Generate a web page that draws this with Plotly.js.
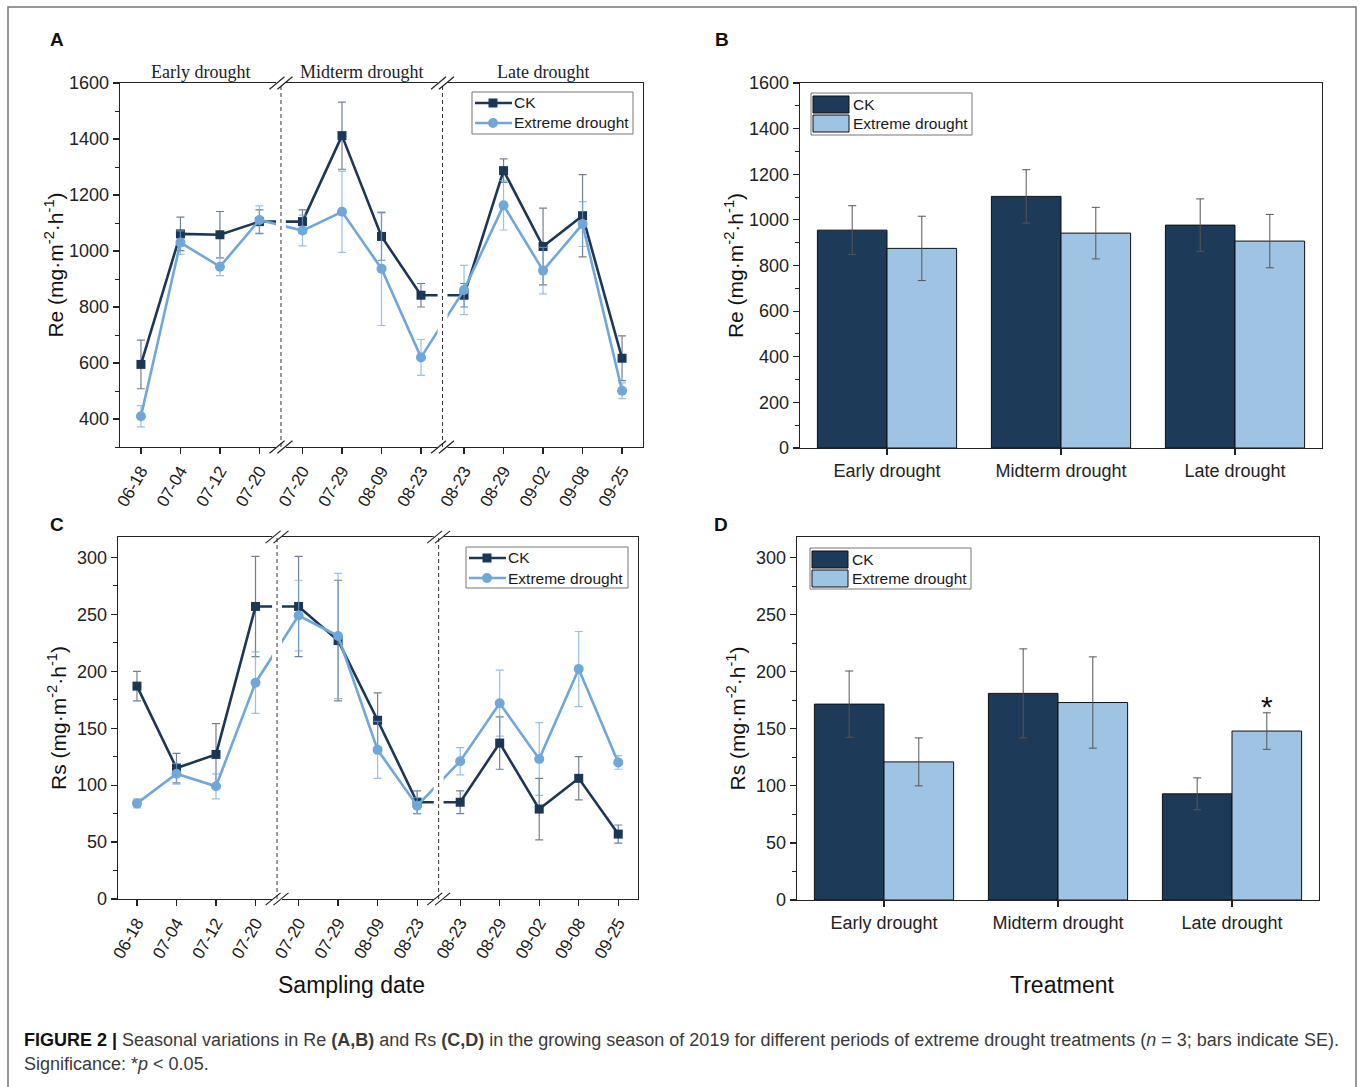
<!DOCTYPE html>
<html>
<head>
<meta charset="utf-8">
<script src="https://cdn.plot.ly/plotly-3.0.1.min.js"></script>
<style>html,body{margin:0;padding:0;background:#fff;}#chart{width:1360px;height:1087px;}</style>
</head>
<body>
<div id="chart"></div>
<script>
// ---------- data ----------
const datesEarly = ['06-18','07-04','07-12','07-20'];
const datesMid   = ['07-20','07-29','08-09','08-23'];
const datesLate  = ['08-23','08-29','09-02','09-08','09-25'];
const periodNames = ['Early drought','Midterm drought','Late drought'];
const seriesNames = ['CK','Extreme drought'];

const reCK   = [595, 1061, 1058, 1105, 1105, 1412, 1052, 842, 842, 1287, 1016, 1126, 617];
const reCKse = [87, 60, 83, 42, 42, 120, 85, 42, 42, 42, 137, 147, 80];
const reED   = [410, 1030, 944, 1111, 1073, 1140, 937, 620, 861, 1163, 930, 1096, 501];
const reEDse = [38, 42, 32, 50, 55, 145, 203, 64, 88, 88, 83, 80, 28];

const rsCK   = [187, 115, 127, 257, 257, 227, 157, 85, 85, 137, 79, 106, 57];
const rsCKse = [13, 13, 27, 44, 44, 53, 24, 10, 10, 23, 27, 19, 8];
const rsED   = [84, 110, 99, 190, 249, 231, 131, 82, 121, 172, 123, 202, 120];
const rsEDse = [4, 9, 11, 27, 31, 55, 25, 7, 12, 29, 32, 33, 6];

const reBarCK   = [955, 1103, 977];
const reBarCKse = [107, 117, 115];
const reBarED   = [875, 942, 907];
const reBarEDse = [141, 113, 117];

const rsBarCK   = [171.6, 181, 93];
const rsBarCKse = [29, 39, 14];
const rsBarED   = [121, 173, 148];
const rsBarEDse = [21, 40, 16];

// ---------- styling ----------
const W = 1360, H = 1087;
const px = v => v / W, py = v => 1 - v / H;
const CK_COL = '#1c3756', ED_COL = '#6fa7da';
const CK_BAR = '#1d3a59', ED_BAR = '#9fc3e3';
const FONT = 'Liberation Sans, Arial, sans-serif';

// x positions for the broken date axis (segments separated by a break)
const GAP = 0.09;
const segs = [datesEarly, datesMid, datesLate];
const xPos = [], xText = [], segCenters = [];
let k = 0;
segs.forEach((seg, s) => {
  const start = k;
  seg.forEach(d => { xPos.push(k + s * GAP); xText.push(d); k++; });
  segCenters.push((xPos[start] + xPos[k - 1]) / 2);
});
const breaks = [(xPos[3] + xPos[4]) / 2, (xPos[7] + xPos[8]) / 2];

function lineTraces(ck, ckse, ed, edse, xa, ya) {
  return [
    {type:'scatter', mode:'lines+markers', name:seriesNames[0], x:xPos, y:ck, xaxis:xa, yaxis:ya, showlegend:false,
     line:{color:CK_COL, width:2.6}, marker:{symbol:'square', size:9, color:CK_COL},
     error_y:{type:'data', array:ckse, visible:true, color:'rgba(40,62,92,0.65)', thickness:1.2, width:4}},
    {type:'scatter', mode:'lines+markers', name:seriesNames[1], x:xPos, y:ed, xaxis:xa, yaxis:ya, showlegend:false,
     line:{color:ED_COL, width:2.6}, marker:{symbol:'circle', size:10, color:ED_COL},
     error_y:{type:'data', array:edse, visible:true, color:'rgba(111,167,218,0.7)', thickness:1.2, width:4}}
  ];
}
function barTraces(ck, ckse, ed, edse, xa, ya) {
  return [
    {type:'bar', name:seriesNames[0], x:periodNames, y:ck, xaxis:xa, yaxis:ya, showlegend:false,
     marker:{color:CK_BAR, line:{color:'#111', width:1}},
     error_y:{type:'data', array:ckse, visible:true, color:'#555', thickness:1, width:4}},
    {type:'bar', name:seriesNames[1], x:periodNames, y:ed, xaxis:xa, yaxis:ya, showlegend:false,
     marker:{color:ED_BAR, line:{color:'#111', width:1}},
     error_y:{type:'data', array:edse, visible:true, color:'#555', thickness:1, width:4}}
  ];
}

const data = [].concat(
  lineTraces(reCK, reCKse, reED, reEDse, 'x', 'y'),
  barTraces(reBarCK, reBarCKse, reBarED, reBarEDse, 'x2', 'y2'),
  lineTraces(rsCK, rsCKse, rsED, rsEDse, 'x3', 'y3'),
  barTraces(rsBarCK, rsBarCKse, rsBarED, rsBarEDse, 'x4', 'y4')
);

const axBase = {showline:true, mirror:true, linecolor:'#222', linewidth:1.3, ticks:'outside', ticklen:6,
  tickwidth:1.2, tickcolor:'#222', showgrid:false, zeroline:false, fixedrange:true,
  tickfont:{size:18, color:'#222', family:FONT}};
const dateX = Object.assign({}, axBase, {tickmode:'array', tickvals:xPos, ticktext:xText, tickangle:-60,
  tickfont:{size:17, color:'#1a1a1a', family:FONT}});
const catX = Object.assign({}, axBase, {type:'category', ticklen:6});
const yTitle = t => ({text:t, font:{size:21, color:'#111', family:FONT}});
const minorY = d => ({dtick:d, ticks:'outside', ticklen:3.5, tickwidth:1, tickcolor:'#222'});

function breakShapes(xr, yr) {
  const out = [];
  breaks.forEach(b => {
    out.push({type:'rect', xref:xr, yref:yr + ' domain', x0:b - 0.125, x1:b + 0.125, y0:-0.012, y1:1.012,
      fillcolor:'#fff', line:{width:0}, layer:'above'});
    out.push({type:'line', xref:xr, yref:yr + ' domain', x0:b, x1:b, y0:0, y1:1,
      line:{color:'#333', width:1, dash:'4px,3px'}, layer:'above'});
    [0, 1].forEach(yy => [-0.1, 0.1].forEach(dx => out.push({type:'line', xref:xr, yref:yr + ' domain',
      x0:b + dx - 0.19, x1:b + dx + 0.19, y0:yy - 0.017, y1:yy + 0.017,
      line:{color:'#222', width:1.2}, layer:'above'})));
  });
  return out;
}

// ---------- hand-drawn legends (box + samples + labels) ----------
const legShapes = [], legTexts = [];
const pRect = (x0, y0, x1, y1, fill, lineCol, lw) => ({type:'rect', xref:'paper', yref:'paper',
  x0:px(x0), x1:px(x1), y0:py(y1), y1:py(y0), fillcolor:fill, line:{color:lineCol, width:lw}, layer:'above'});
const legText = (t, x, y) => ({text:t, xref:'paper', yref:'paper', x:px(x), y:py(y), xanchor:'left',
  yanchor:'middle', showarrow:false, font:{size:15.5, color:'#1a1a1a', family:FONT}});
function lineLegend(l, t, r, b) {
  legShapes.push(pRect(l, t, r, b, '#fff', '#777', 1));
  const rows = [t + 11, t + 31];
  const cols = [CK_COL, ED_COL];
  rows.forEach((yy, i) => {
    legShapes.push({type:'line', xref:'paper', yref:'paper', x0:px(l + 3), x1:px(l + 40), y0:py(yy), y1:py(yy),
      line:{color:cols[i], width:2.6}, layer:'above'});
    const cx = l + 21;
    if (i === 0) legShapes.push(pRect(cx - 4.5, yy - 4.5, cx + 4.5, yy + 4.5, cols[i], cols[i], 0));
    else legShapes.push({type:'circle', xref:'paper', yref:'paper', x0:px(cx - 5), x1:px(cx + 5),
      y0:py(yy + 5), y1:py(yy - 5), fillcolor:cols[i], line:{width:0}, layer:'above'});
    legTexts.push(legText(seriesNames[i], l + 40, yy));
  });
}
function barLegend(l, t, r, b) {
  legShapes.push(pRect(l, t, r, b, '#fff', '#777', 1));
  const fills = [CK_BAR, ED_BAR];
  [[t + 3, t + 20], [t + 22, t + 39]].forEach((yy, i) => {
    legShapes.push(pRect(l + 2, yy[0], l + 38, yy[1], fills[i], '#111', 1));
    legTexts.push(legText(seriesNames[i], l + 40, (yy[0] + yy[1]) / 2));
  });
}
lineLegend(472, 92, 633, 134);
barLegend(811, 93, 972, 135);
lineLegend(466, 547, 628, 588);
barLegend(810, 548, 971, 589);

const shapes = [].concat(breakShapes('x', 'y'), breakShapes('x3', 'y3'), legShapes, [
  {type:'rect', xref:'paper', yref:'paper', x0:px(8), x1:px(1356), y0:-0.02, y1:py(7),
   line:{color:'#777', width:1.5}, fillcolor:'rgba(0,0,0,0)', layer:'below'}
]);

const letter = (t, x, y) => ({text:'<b>' + t + '</b>', xref:'paper', yref:'paper', x:px(x), y:py(y),
  xanchor:'center', yanchor:'middle', showarrow:false, font:{size:19, color:'#111', family:FONT}});
const bigTitle = (t, x, y) => ({text:t, xref:'paper', yref:'paper', x:px(x), y:py(y), xanchor:'center',
  yanchor:'middle', showarrow:false, font:{size:23, color:'#111', family:FONT}});

const annotations = [
  letter('A', 57, 40), letter('B', 722, 40), letter('C', 57, 525), letter('D', 721, 525),
  ...periodNames.map((p, i) => ({text:p, xref:'x', yref:'y domain', x:segCenters[i], y:1, yanchor:'bottom',
    showarrow:false, yshift:-1, font:{size:18, color:'#222', family:'Liberation Serif, Times New Roman, serif'}})),
  {text:'*', xref:'x4', yref:'y4', x:periodNames[2], y:rsBarED[2] + rsBarEDse[2], xshift:35, yanchor:'bottom',
   yshift:-12, showarrow:false, font:{size:30, color:'#111', family:FONT}},
  bigTitle('Sampling date', 351, 985),
  bigTitle('Treatment', 1062, 985),
  ...legTexts,
  {text:'<b><span style="color:#111">FIGURE 2 |</span></b> Seasonal variations in Re <b>(A,B)</b> and Rs <b>(C,D)</b> in the growing season of 2019 for different periods of extreme drought treatments (<i>n</i> = 3; bars indicate SE).',
   xref:'paper', yref:'paper', x:px(22), y:py(1040), xanchor:'left', yanchor:'middle', showarrow:false,
   font:{size:18, color:'#3a3a3a', family:FONT}},
  {text:'Significance: *<i>p</i> &lt; 0.05.', xref:'paper', yref:'paper', x:px(22), y:py(1064),
   xanchor:'left', yanchor:'middle', showarrow:false, font:{size:18, color:'#3a3a3a', family:FONT}}
];

const layout = {
  width:W, height:H, margin:{l:0, r:0, t:0, b:0, autoexpand:false},
  paper_bgcolor:'#fff', plot_bgcolor:'#fff', font:{family:FONT, color:'#222'},
  barmode:'group', bargap:0.2, bargroupgap:0, hovermode:false, showlegend:false,
  xaxis: Object.assign({}, dateX, {domain:[px(120), px(643)], range:[-0.53, 12.71], anchor:'y'}),
  yaxis: Object.assign({}, axBase, {domain:[py(447), py(83)], range:[300, 1600], dtick:200, tick0:0,
    minor:minorY(100), title:yTitle('Re (mg·m<sup>-2</sup>·h<sup>-1</sup>)'), anchor:'x'}),
  xaxis2: Object.assign({}, catX, {domain:[px(800), px(1322)], anchor:'y2'}),
  yaxis2: Object.assign({}, axBase, {domain:[py(448), py(83)], range:[0, 1600], dtick:200,
    minor:minorY(100), title:yTitle('Re (mg·m<sup>-2</sup>·h<sup>-1</sup>)'), anchor:'x2'}),
  xaxis3: Object.assign({}, dateX, {domain:[px(118), px(638)], range:[-0.48, 12.68], anchor:'y3'}),
  yaxis3: Object.assign({}, axBase, {domain:[py(899), py(537)], range:[0, 318], dtick:50,
    minor:minorY(25), title:yTitle('Rs (mg·m<sup>-2</sup>·h<sup>-1</sup>)'), anchor:'x3'}),
  xaxis4: Object.assign({}, catX, {domain:[px(797), px(1319)], anchor:'y4'}),
  yaxis4: Object.assign({}, axBase, {domain:[py(900), py(537)], range:[0, 318], dtick:50,
    minor:minorY(25), title:yTitle('Rs (mg·m<sup>-2</sup>·h<sup>-1</sup>)'), anchor:'x4'}),
  shapes: shapes,
  annotations: annotations
};

Plotly.newPlot('chart', data, layout, {displayModeBar:false, staticPlot:true});
</script>
</body>
</html>
